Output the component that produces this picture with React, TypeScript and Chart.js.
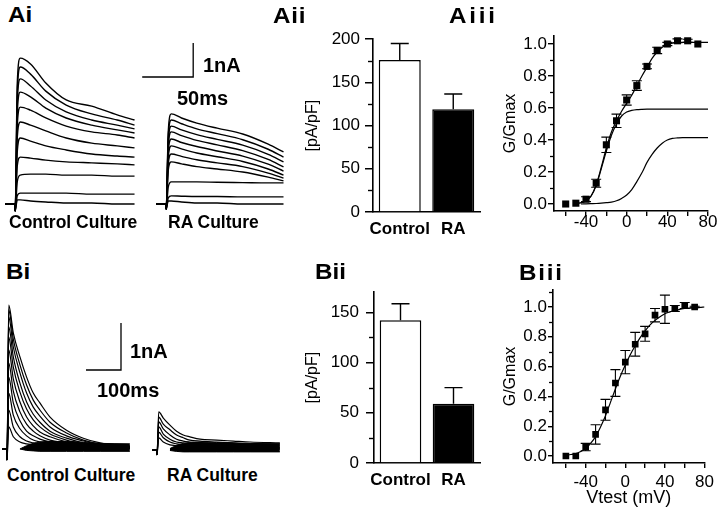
import React, { useEffect, useRef } from 'react';
import { Chart, registerables } from 'chart.js';

Chart.register(...registerables);

const FONT = "'Liberation Sans', Arial, Helvetica, sans-serif";
Chart.defaults.font.family = FONT;
Chart.defaults.color = '#000';

// ---------------- DATA ----------------
// Ai: outward K+ current traces (nA) vs time (ms)
const AI_TIME = [-10, -0.5, 0, 2, 5, 15, 30, 50, 75, 100, 117];
const AI_CONTROL = [
  [0, 0, -0.2, 3.53, 4.29, 4.12, 3.56, 3.06, 2.88, 2.62, 2.47],
  [0, 0, -0.2, 3.24, 4.03, 3.82, 3.32, 2.91, 2.65, 2.47, 2.32],
  [0, 0, -0.2, 2.94, 3.68, 3.47, 3.06, 2.71, 2.47, 2.32, 2.21],
  [0, 0, -0.2, 2.65, 3.29, 3.15, 2.82, 2.53, 2.32, 2.18, 2.09],
  [0, 0, -0.2, 2.29, 2.85, 2.76, 2.53, 2.29, 2.12, 2.03, 1.94],
  [0, 0, -0.2, 1.94, 2.41, 2.32, 2.15, 1.94, 1.79, 1.71, 1.65],
  [0, 0, -0.2, 1.53, 1.94, 1.85, 1.71, 1.59, 1.47, 1.41, 1.38],
  [0, 0, -0.2, 1.12, 1.38, 1.35, 1.29, 1.24, 1.21, 1.18, 1.15],
  [0, 0, -0.2, 0.65, 0.85, 0.88, 0.88, 0.85, 0.85, 0.82, 0.82],
  [0, 0, -0.2, 0.24, 0.32, 0.32, 0.32, 0.32, 0.29, 0.29, 0.29],
  [0, 0, -0.2, 0.12, 0.12, 0.09, 0.06, 0.03, 0.03, 0, 0],
];
const AI_RA_TIME = [-10, -0.5, 0, 2, 5, 15, 30, 50, 75, 100, 115];
const AI_RA = [
  [0, 0, -0.15, 2.12, 2.65, 2.53, 2.38, 2.23, 2.06, 1.76, 1.53],
  [0, 0, -0.15, 1.98, 2.47, 2.36, 2.21, 2.07, 1.89, 1.61, 1.38],
  [0, 0, -0.15, 1.84, 2.29, 2.18, 2.04, 1.9, 1.73, 1.46, 1.24],
  [0, 0, -0.15, 1.69, 2.12, 2.01, 1.87, 1.74, 1.57, 1.31, 1.09],
  [0, 0, -0.15, 1.53, 1.91, 1.81, 1.69, 1.56, 1.41, 1.17, 0.97],
  [0, 0, -0.15, 1.36, 1.71, 1.62, 1.5, 1.39, 1.25, 1.03, 0.85],
  [0, 0, -0.15, 1.18, 1.47, 1.4, 1.3, 1.21, 1.1, 0.91, 0.76],
  [0, 0, -0.15, 0.99, 1.24, 1.18, 1.1, 1.03, 0.94, 0.79, 0.68],
  [0, 0, -0.15, 0.5, 0.65, 0.65, 0.65, 0.64, 0.63, 0.62, 0.62],
  [0, 0, -0.15, 0.18, 0.24, 0.23, 0.22, 0.22, 0.21, 0.21, 0.21],
  [0, 0, -0.15, 0.09, 0.09, 0.06, 0.03, 0.03, 0, 0, 0],
];

// Bi: transient (A-type) current traces (nA) vs time (ms)
const BI_TIME = [-14, -1, 0, 5, 18, 37, 56, 75, 94, 123, 170, 218, 266, 351];
const BI_CONTROL = [
  [0, 0, -0.23, 3.06, 2.47, 1.96, 1.53, 1.19, 0.98, 0.68, 0.4, 0.23, 0.13, 0.06],
  [0, 0, -0.23, 2.96, 2.34, 1.79, 1.36, 1.04, 0.83, 0.57, 0.34, 0.19, 0.11, 0.06],
  [0, 0, -0.23, 2.81, 2.17, 1.62, 1.19, 0.89, 0.7, 0.47, 0.28, 0.17, 0.09, 0.04],
  [0, 0, -0.23, 2.6, 1.96, 1.4, 1.0, 0.74, 0.57, 0.38, 0.23, 0.13, 0.06, 0.04],
  [0, 0, -0.23, 2.38, 1.74, 1.21, 0.85, 0.62, 0.47, 0.32, 0.19, 0.11, 0.06, 0.04],
  [0, 0, -0.23, 2.11, 1.49, 1.0, 0.68, 0.49, 0.36, 0.26, 0.15, 0.09, 0.04, 0.02],
  [0, 0, -0.23, 1.83, 1.23, 0.79, 0.53, 0.38, 0.28, 0.19, 0.13, 0.06, 0.04, 0.02],
  [0, 0, -0.23, 1.53, 0.98, 0.6, 0.38, 0.28, 0.21, 0.15, 0.11, 0.06, 0.04, 0.02],
  [0, 0, -0.23, 1.19, 0.72, 0.43, 0.28, 0.19, 0.15, 0.11, 0.09, 0.04, 0.02, 0.02],
  [0, 0, -0.23, 0.83, 0.47, 0.26, 0.17, 0.13, 0.11, 0.09, 0.06, 0.04, 0.02, 0.02],
  [0, 0, -0.23, 0.47, 0.26, 0.15, 0.11, 0.09, 0.06, 0.06, 0.04, 0.02, 0.02, 0],
];
const BI_RA = [
  [0, 0, -0.1, 0.81, 0.68, 0.53, 0.4, 0.32, 0.28, 0.23, 0.21, 0.19, 0.17, 0.15],
  [0, 0, -0.1, 0.7, 0.55, 0.43, 0.32, 0.26, 0.21, 0.19, 0.17, 0.15, 0.13, 0.13],
  [0, 0, -0.1, 0.6, 0.45, 0.32, 0.23, 0.19, 0.17, 0.15, 0.13, 0.11, 0.11, 0.09],
  [0, 0, -0.1, 0.49, 0.34, 0.23, 0.17, 0.15, 0.13, 0.11, 0.09, 0.09, 0.06, 0.06],
  [0, 0, -0.1, 0.38, 0.26, 0.17, 0.13, 0.11, 0.09, 0.09, 0.06, 0.06, 0.04, 0.04],
  [0, 0, -0.1, 0.26, 0.17, 0.11, 0.09, 0.06, 0.06, 0.04, 0.04, 0.04, 0.02, 0.02],
];
// noise envelope of the recorded tails (nA)
const BI_NOISE_TIME = [37, 56, 75, 94, 123, 170, 218, 266, 351];
const BI_CONTROL_NOISE_HI = [0.0, 0.07, 0.12, 0.15, 0.16, 0.16, 0.14, 0.12, 0.11];
const BI_CONTROL_NOISE_LO = [0.0, -0.03, -0.04, -0.05, -0.05, -0.05, -0.05, -0.05, -0.05];
const BI_RA_NOISE_HI = [0.03, 0.1, 0.14, 0.16, 0.17, 0.16, 0.15, 0.14, 0.13];
const BI_RA_NOISE_LO = [-0.01, -0.03, -0.04, -0.04, -0.04, -0.04, -0.04, -0.04, -0.04];

// Aii / Bii: current density (pA/pF)
const BAR_LABELS = ['Control', 'RA'];
const AII_MEANS = [176, 119];
const AII_SEM = [19, 17.5];
const BII_MEANS = [142, 59];
const BII_SEM = [16.5, 16];
const AII_Y_TICKS = [0, 50, 100, 150, 200];
const AII_Y_MINOR = [25, 75, 125, 175];
const BII_Y_TICKS = [0, 50, 100, 150];
const BII_Y_MINOR = [25, 75, 125];

// Aiii / Biii: normalized conductance vs test potential (mV)
const GV_VOLTS = [-60, -50, -40, -30, -20, -10, 0, 10, 20, 30, 40, 50, 60, 70];
const AIII_G = [0.0, 0.005, 0.03, 0.13, 0.37, 0.52, 0.65, 0.74, 0.86, 0.96, 1.0, 1.02, 1.02, 1.0];
const AIII_ERR = [0, 0, 0.015, 0.025, 0.048, 0.042, 0.032, 0.03, 0.015, 0.02, 0.01, 0.012, 0.01, 0];
const AIII_FIT_V = [-50, -45, -40, -35, -30, -25, -20, -15, -10, -5, 0, 5, 10, 15, 20, 25, 30, 35, 40, 45, 50, 55, 60, 65, 70, 75, 80];
const AIII_FIT_TOTAL = [0.003, 0.008, 0.02, 0.05, 0.12, 0.23, 0.35, 0.45, 0.52, 0.58, 0.63, 0.68, 0.74, 0.8, 0.855, 0.91, 0.95, 0.98, 0.995, 1.005, 1.01, 1.01, 1.01, 1.01, 1.01, 1.01, 1.01];
const AIII_FIT_C1 = [0.003, 0.008, 0.02, 0.05, 0.115, 0.22, 0.33, 0.43, 0.5, 0.55, 0.575, 0.585, 0.59, 0.592, 0.593, 0.593, 0.593, 0.593, 0.593, 0.593, 0.593, 0.593, 0.593, 0.593, 0.593, 0.593, 0.593];
const AIII_FIT_C2_V = [-45, -40, -35, -30, -25, -20, -15, -10, -5, 0, 5, 10, 15, 20, 25, 30, 35, 40, 45, 50, 55, 60, 65, 70, 75, 80];
const AIII_FIT_C2 = [0, 0.001, 0.002, 0.003, 0.005, 0.008, 0.012, 0.02, 0.035, 0.056, 0.09, 0.14, 0.195, 0.26, 0.31, 0.35, 0.38, 0.4, 0.41, 0.413, 0.415, 0.415, 0.415, 0.415, 0.415, 0.415];
const BIII_G = [0.0, 0.0, 0.06, 0.145, 0.31, 0.49, 0.63, 0.75, 0.82, 0.945, 0.985, 0.99, 1.01, 1.0];
const BIII_ERR = [0, 0, 0.025, 0.065, 0.07, 0.09, 0.078, 0.08, 0.05, 0.045, 0.095, 0.02, 0.02, 0.005];
const BIII_FIT_V = [-60, -55, -50, -45, -40, -35, -30, -25, -20, -15, -10, -5, 0, 5, 10, 15, 20, 25, 30, 35, 40, 45, 50, 55, 60, 65, 70, 75, 80];
const BIII_FIT = [0.005, 0.01, 0.016, 0.03, 0.05, 0.085, 0.13, 0.195, 0.27, 0.36, 0.45, 0.535, 0.61, 0.68, 0.74, 0.795, 0.84, 0.88, 0.91, 0.935, 0.955, 0.967, 0.977, 0.984, 0.99, 0.993, 0.995, 0.997, 1.0];
const GV_X_TICKS = [-60, -40, -20, 0, 20, 40, 60, 80];
const GV_Y_TICKS = [0, 0.2, 0.4, 0.6, 0.8, 1.0];
const AIII_Y_MINOR = [0.1, 0.3, 0.5, 0.7, 0.9];
const BIII_Y_MINOR = [0.1, 0.3, 0.5, 0.7, 0.9, 1.1];

// ---------------- HELPERS ----------------
type Box = { left: number; top: number; width: number; height: number; padding?: any };
type Area = { l: number; t: number; r: number; b: number };

function boxFor(a: Area, yW: number, xH: number, padT = 12, padR = 12): Box {
  return {
    left: a.l - yW,
    top: a.t - padT,
    width: a.r - a.l + yW + padR,
    height: a.b - a.t + padT + xH,
    padding: { top: padT, right: padR, left: 0, bottom: 0 },
  };
}

function pts(xs: number[], ys: number[]) {
  return ys.map((y, i) => ({ x: xs[i], y }));
}

function scaleBarPlugin(sb: { x0: number; x1: number; y0: number; y1: number }) {
  return {
    id: 'scaleBar',
    afterDraw(chart: any) {
      const { ctx } = chart;
      const xs = chart.scales.x;
      const ys = chart.scales.y;
      const px0 = xs.getPixelForValue(sb.x0);
      const px1 = xs.getPixelForValue(sb.x1);
      const py0 = ys.getPixelForValue(sb.y0);
      const py1 = ys.getPixelForValue(sb.y1);
      ctx.save();
      ctx.strokeStyle = '#000';
      ctx.lineWidth = 1.3;
      ctx.beginPath();
      ctx.moveTo(px0, py0);
      ctx.lineTo(px1, py0);
      ctx.lineTo(px1, py1);
      ctx.stroke();
      ctx.restore();
    },
  };
}

function errorBarPlugin(datasetIndex: number, values: number[], errs: number[], capHalf: number, upOnly: boolean, lw: number) {
  return {
    id: 'errorBars',
    afterDatasetsDraw(chart: any) {
      const { ctx } = chart;
      const ys = chart.scales.y;
      const meta = chart.getDatasetMeta(datasetIndex);
      ctx.save();
      ctx.strokeStyle = '#000';
      ctx.lineWidth = lw;
      meta.data.forEach((el: any, i: number) => {
        const e = errs[i];
        if (!e) return;
        const x = el.x;
        const yTop = ys.getPixelForValue(values[i] + e);
        const yBot = upOnly ? ys.getPixelForValue(values[i]) : ys.getPixelForValue(values[i] - e);
        ctx.beginPath();
        ctx.moveTo(x, yBot);
        ctx.lineTo(x, yTop);
        ctx.moveTo(x - capHalf, yTop);
        ctx.lineTo(x + capHalf, yTop);
        if (!upOnly) {
          ctx.moveTo(x - capHalf, yBot);
          ctx.lineTo(x + capHalf, yBot);
        }
        ctx.stroke();
      });
      ctx.restore();
    },
  };
}

function minorTickPlugin(values: number[], len: number, lw: number) {
  return {
    id: 'minorTicks',
    afterDraw(chart: any) {
      const { ctx, chartArea } = chart;
      const ys = chart.scales.y;
      ctx.save();
      ctx.strokeStyle = '#000';
      ctx.lineWidth = lw;
      values.forEach((v) => {
        const y = Math.round(ys.getPixelForValue(v)) + 0.5;
        ctx.beginPath();
        ctx.moveTo(chartArea.left, y);
        ctx.lineTo(chartArea.left - len, y);
        ctx.stroke();
      });
      ctx.restore();
    },
  };
}

function baseOptions(padding: any) {
  return {
    animation: false,
    responsive: false,
    events: [],
    layout: { padding },
    plugins: { legend: { display: false }, tooltip: { enabled: false }, title: { display: false } },
  };
}

function traceConfig(
  time: number[],
  traces: number[][],
  range: { xMin: number; xMax: number; yMin: number; yMax: number },
  band: { t: number[]; hi: number[]; lo: number[] } | null,
  bar: { x0: number; x1: number; y0: number; y1: number } | null,
  lw: number
) {
  const datasets: any[] = traces.map((vals) => ({
    data: pts(time, vals),
    borderColor: '#000',
    borderWidth: lw,
    pointRadius: 0,
    fill: false,
    cubicInterpolationMode: 'monotone',
  }));
  if (band) {
    datasets.push({
      data: pts(band.t, band.hi),
      borderColor: '#000',
      backgroundColor: '#000',
      borderWidth: 1,
      pointRadius: 0,
      fill: '+1',
      cubicInterpolationMode: 'monotone',
    });
    datasets.push({
      data: pts(band.t, band.lo),
      borderColor: '#000',
      borderWidth: 1,
      pointRadius: 0,
      fill: false,
    });
  }
  return {
    type: 'line',
    data: { datasets },
    options: {
      ...baseOptions(0),
      scales: {
        x: { type: 'linear', display: false, min: range.xMin, max: range.xMax },
        y: { type: 'linear', display: false, min: range.yMin, max: range.yMax },
      },
    },
    plugins: bar ? [scaleBarPlugin(bar)] : [],
  };
}

function barConfig(box: Box, yW: number, xH: number, means: number[], sems: number[], yMax: number, yTicks: number[], minor: number[], yTickPad: number, xTickPad: number) {
  return {
    type: 'bar',
    data: {
      labels: BAR_LABELS,
      datasets: [
        {
          data: means,
          backgroundColor: ['#ffffff', '#000000'],
          borderColor: '#000',
          borderWidth: 1.5,
          barPercentage: 0.785,
          categoryPercentage: 1,
        },
      ],
    },
    options: {
      ...baseOptions(box.padding),
      scales: {
        x: {
          type: 'category',
          afterFit: (s: any) => { s.height = xH; },
          grid: { display: false, drawTicks: false },
          border: { display: true, color: '#000', width: 1.6 },
          ticks: { font: { size: 17, weight: 'bold' }, color: '#000', padding: xTickPad, maxRotation: 0, autoSkip: false },
        },
        y: {
          type: 'linear',
          min: 0,
          max: yMax,
          afterBuildTicks: (s: any) => { s.ticks = yTicks.map((v) => ({ value: v })); },
          afterFit: (s: any) => { s.width = yW; },
          grid: { display: true, drawOnChartArea: false, drawTicks: true, tickLength: 8, color: '#000', lineWidth: 1.5 },
          border: { display: true, color: '#000', width: 1.6 },
          ticks: { font: { size: 17 }, color: '#000', padding: yTickPad, autoSkip: false },
          title: { display: true, text: '[pA/pF]', font: { size: 16 }, color: '#000', padding: 0 },
        },
      },
    },
    plugins: [errorBarPlugin(0, means, sems, 9, true, 1.4), minorTickPlugin(minor, 5, 1.4)],
  };
}

function gvConfig(p: {
  box: Box; yW: number; xH: number; xMin: number; xMax: number; yMin: number; yMax: number;
  fits: { v: number[]; g: number[] }[]; g: number[]; err: number[]; pointR: number; minor: number[];
  xTickPad: number; yTickLen: number; xTitle?: string;
}) {
  const datasets: any[] = [
    {
      data: pts(GV_VOLTS, p.g),
      showLine: false,
      pointStyle: 'rect',
      pointRadius: p.pointR,
      pointBackgroundColor: '#000',
      pointBorderColor: '#000',
      pointBorderWidth: 0,
    },
    ...p.fits.map((f) => ({
      data: pts(f.v, f.g),
      borderColor: '#000',
      borderWidth: 1.2,
      pointRadius: 0,
      fill: false,
      cubicInterpolationMode: 'monotone',
    })),
  ];
  return {
    type: 'line',
    data: { datasets },
    options: {
      ...baseOptions(p.box.padding),
      scales: {
        x: {
          type: 'linear',
          min: p.xMin,
          max: p.xMax,
          afterBuildTicks: (s: any) => { s.ticks = GV_X_TICKS.map((v) => ({ value: v })); },
          afterFit: (s: any) => { s.height = p.xH; },
          grid: { display: true, drawOnChartArea: false, drawTicks: true, tickLength: 5, color: '#000', lineWidth: 1.4 },
          border: { display: true, color: '#000', width: 1.6 },
          ticks: {
            callback: (v: any) => (Number(v) % 40 === 0 ? String(v) : ''),
            font: { size: 17 },
            color: '#000',
            padding: p.xTickPad,
            maxRotation: 0,
            minRotation: 0,
            autoSkip: false,
          },
          title: p.xTitle
            ? { display: true, text: p.xTitle, font: { size: 18 }, color: '#000', padding: 0 }
            : { display: false },
        },
        y: {
          type: 'linear',
          min: p.yMin,
          max: p.yMax,
          afterBuildTicks: (s: any) => { s.ticks = GV_Y_TICKS.map((v) => ({ value: v })); },
          afterFit: (s: any) => { s.width = p.yW; },
          grid: { display: true, drawOnChartArea: false, drawTicks: true, tickLength: p.yTickLen, color: '#000', lineWidth: 1.4 },
          border: { display: true, color: '#000', width: 1.6 },
          ticks: { callback: (v: any) => Number(v).toFixed(1), font: { size: 17 }, color: '#000', padding: 1, autoSkip: false },
          title: { display: true, text: 'G/Gmax', font: { size: 16 }, color: '#000', padding: 0 },
        },
      },
    },
    plugins: [errorBarPlugin(0, p.g, p.err, 5, false, 1.1), minorTickPlugin(p.minor, 4, 1.3)],
  };
}

function ChartCanvas({ box, make }: { box: Box; make: () => any }) {
  const ref = useRef<HTMLCanvasElement | null>(null);
  useEffect(() => {
    if (!ref.current) return;
    const chart = new Chart(ref.current, make());
    return () => chart.destroy();
  }, []);
  return (
    <canvas
      ref={ref}
      width={box.width}
      height={box.height}
      style={{ position: 'absolute', left: box.left, top: box.top, width: box.width, height: box.height }}
    />
  );
}

function Label({ text, x, baseline, size, bold = true, sx = 1, ls = 0 }: { text: string; x: number; baseline: number; size: number; bold?: boolean; sx?: number; ls?: number }) {
  return (
    <div
      style={{
        position: 'absolute',
        left: x,
        top: baseline - 0.8465 * size,
        fontFamily: FONT,
        fontSize: size,
        fontWeight: bold ? 700 : 400,
        lineHeight: `${size}px`,
        whiteSpace: 'nowrap',
        letterSpacing: ls,
        transform: sx !== 1 ? `scaleX(${sx})` : undefined,
        transformOrigin: 'left top',
        color: '#000',
      }}
    >
      {text}
    </div>
  );
}

// ---------------- LAYOUT ----------------
const AI_PX_MS = 1.02; // px per ms
const AI_PX_NA = 34; // px per nA
const BI_PX_MS = 0.35;
const BI_PX_NA = 47;

const aiCtrlBox: Box = { left: 5, top: 38, width: 240, height: 177 };
const aiRaBox: Box = { left: 156, top: 38, width: 130, height: 177 };
const aiYRange = { yMax: (204 - 38) / AI_PX_NA, yMin: -(215 - 204) / AI_PX_NA };
const biCtrlBox: Box = { left: 2, top: 300, width: 140, height: 162 };
const biRaBox: Box = { left: 152, top: 301, width: 132, height: 162 };
const biYRange = { yMax: 149 / BI_PX_NA, yMin: -13 / BI_PX_NA };
const biXMin = -5 / BI_PX_MS;

const aiiBox = boxFor({ l: 373, t: 36, r: 480, b: 212 }, 70, 32);
const biiBox = boxFor({ l: 374, t: 287, r: 480, b: 463 }, 71, 32);
const aiiiBox = boxFor({ l: 554, t: 36, r: 708, b: 211 }, 53, 30);
const biiiBox = boxFor({ l: 553, t: 290, r: 706, b: 463 }, 52, 46);

export default function App() {
  return (
    <div style={{ position: 'absolute', left: 0, top: 0, width: 720, height: 516, background: '#fff', overflow: 'hidden' }}>
      <ChartCanvas
        box={aiCtrlBox}
        make={() =>
          traceConfig(AI_TIME, AI_CONTROL, { xMin: -10, xMax: -10 + aiCtrlBox.width / AI_PX_MS, ...aiYRange }, null,
            { x0: (142 - 15) / AI_PX_MS, x1: (142 - 15) / AI_PX_MS + 50, y0: (204 - 77) / AI_PX_NA, y1: (204 - 77) / AI_PX_NA + 1 }, 1.4)
        }
      />
      <ChartCanvas
        box={aiRaBox}
        make={() => traceConfig(AI_RA_TIME, AI_RA, { xMin: -10, xMax: -10 + aiRaBox.width / AI_PX_MS, ...aiYRange }, null, null, 1.4)}
      />
      <ChartCanvas
        box={biCtrlBox}
        make={() =>
          traceConfig(BI_TIME, BI_CONTROL, { xMin: biXMin, xMax: biXMin + biCtrlBox.width / BI_PX_MS, ...biYRange },
            { t: BI_NOISE_TIME, hi: BI_CONTROL_NOISE_HI, lo: BI_CONTROL_NOISE_LO },
            { x0: (86 - 7) / BI_PX_MS, x1: (86 - 7) / BI_PX_MS + 100, y0: (449 - 370) / BI_PX_NA, y1: (449 - 370) / BI_PX_NA + 1 }, 1.2)
        }
      />
      <ChartCanvas
        box={biRaBox}
        make={() =>
          traceConfig(BI_TIME, BI_RA, { xMin: biXMin, xMax: biXMin + biRaBox.width / BI_PX_MS, ...biYRange },
            { t: BI_NOISE_TIME, hi: BI_RA_NOISE_HI, lo: BI_RA_NOISE_LO }, null, 1.2)
        }
      />
      <ChartCanvas box={aiiBox} make={() => barConfig(aiiBox, 70, 32, AII_MEANS, AII_SEM, 200, AII_Y_TICKS, AII_Y_MINOR, 5, 7)} />
      <ChartCanvas box={biiBox} make={() => barConfig(biiBox, 71, 32, BII_MEANS, BII_SEM, 170, BII_Y_TICKS, BII_Y_MINOR, 7, 7)} />
      <ChartCanvas
        box={aiiiBox}
        make={() =>
          gvConfig({
            box: aiiiBox, yW: 53, xH: 30, xMin: -71.5, xMax: 80, yMin: -7 / 160, yMax: 168 / 160,
            fits: [
              { v: AIII_FIT_V, g: AIII_FIT_TOTAL },
              { v: AIII_FIT_V, g: AIII_FIT_C1 },
              { v: AIII_FIT_C2_V, g: AIII_FIT_C2 },
            ],
            g: AIII_G, err: AIII_ERR, pointR: 5, minor: AIII_Y_MINOR, xTickPad: -4, yTickLen: 6,
          })
        }
      />
      <ChartCanvas
        box={biiiBox}
        make={() =>
          gvConfig({
            box: biiiBox, yW: 52, xH: 46, xMin: -73, xMax: 80, yMin: -7 / 149, yMax: 166 / 149,
            fits: [{ v: BIII_FIT_V, g: BIII_FIT }],
            g: BIII_G, err: BIII_ERR, pointR: 4.7, minor: BIII_Y_MINOR, xTickPad: 4, yTickLen: 5, xTitle: 'Vtest (mV)',
          })
        }
      />

      <Label text="Ai" x={8} baseline={22.7} size={22} sx={1.1} />
      <Label text="Aii" x={273} baseline={23.3} size={22} sx={1.1} ls={0.7} />
      <Label text="Aiii" x={449} baseline={23.3} size={22} sx={1.1} ls={2.5} />
      <Label text="Bi" x={6} baseline={279.3} size={22} sx={1.1} />
      <Label text="Bii" x={315} baseline={279.3} size={22} sx={1.1} />
      <Label text="Biii" x={519} baseline={280.7} size={22} sx={1.1} ls={1.6} />

      <Label text="Control Culture" x={9} baseline={228.5} size={17.5} />
      <Label text="RA Culture" x={168} baseline={228.5} size={17.5} />
      <Label text="Control Culture" x={7} baseline={481.5} size={17.5} />
      <Label text="RA Culture" x={167} baseline={481.5} size={17.5} />

      <Label text="1nA" x={203} baseline={71.5} size={20} />
      <Label text="50ms" x={177} baseline={105} size={20} />
      <Label text="1nA" x={130} baseline={358} size={20} />
      <Label text="100ms" x={97} baseline={396.5} size={20} />
    </div>
  );
}
